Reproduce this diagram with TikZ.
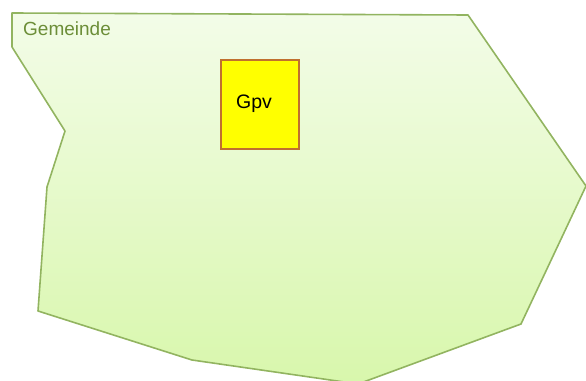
\documentclass[tikz,border=0pt]{standalone}
\usepackage{fontspec}
\setmainfont{Liberation Sans}
\usepackage{xcolor}
\usepackage{tikz}
\usetikzlibrary{positioning}
\definecolor{areatop}{RGB}{243,252,232}
\definecolor{areabot}{RGB}{216,247,172}
\definecolor{areaedge}{RGB}{146,180,96}
\definecolor{arealabel}{RGB}{108,142,56}
\definecolor{gpvfill}{RGB}{255,255,0}
\definecolor{gpvedge}{RGB}{192,112,46}
\tikzstyle{area} = [draw=areaedge, line width=1.6pt, line join=round, top color=areatop, bottom color=areabot]
\tikzstyle{arealbl} = [font=\fontsize{19}{22}\selectfont, text=arealabel, anchor=west, inner sep=0pt]
\tikzstyle{gpvbox} = [draw=gpvedge, line width=2pt, fill=gpvfill, minimum width=78pt, minimum height=89pt, inner sep=0pt, font=\fontsize{19.5}{22}\selectfont]
\begin{document}
\begin{tikzpicture}[x=1pt, y=-1pt]
    \useasboundingbox (0,0) rectangle (586,380);
    \draw[area] (12,13) -- (468,15) -- (586,186) -- (521,324) -- (358,384)
    -- (192,360) -- (38,311) -- (47,187) -- (65,131) -- (12,47) -- cycle;
    \node[arealbl] (gemeinde) at (23,29) {Gemeinde};
    \node[gpvbox] (gpv) at (260,104.5) {\raisebox{5pt}{\hspace{-12pt}Gpv}};
\end{tikzpicture}
\end{document}
